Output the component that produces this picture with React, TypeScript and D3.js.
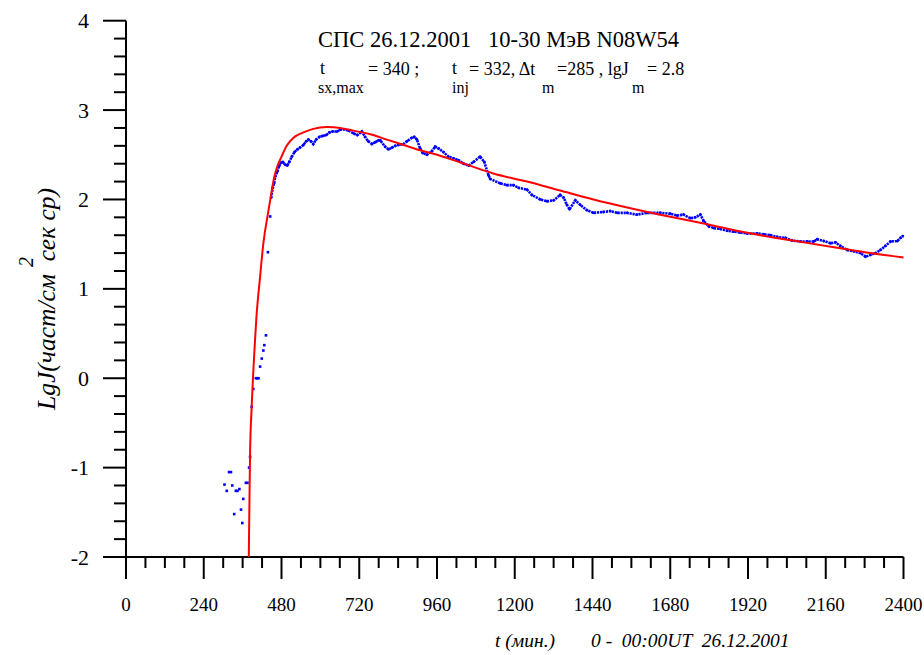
import React from "react";
import * as d3 from "d3";

// ---- data ----
const sparseT = [304, 311, 318, 324, 328, 334, 339, 344, 350, 355, 359, 362, 370, 375, 380, 383, 388, 393, 401, 405, 409, 414, 419, 424, 427, 432, 438, 445];
const sparseV = [-1.19, -1.26, -1.05, -1.05, -1.2, -1.52, -1.26, -1.26, -1.24, -1.47, -1.62, -1.35, -1.17, -1.17, -1.0, -0.88, -0.32, -0.12, 0.0, 0.0, 0.0, 0.13, 0.22, 0.31, 0.37, 0.48, 1.41, 1.81];

const denseT = [448, 453, 457, 461, 467, 472, 478, 484, 491, 498, 504, 512, 520, 529, 537, 548, 556, 563, 571, 578, 587, 597, 607, 618, 628, 638, 651, 661, 673, 687, 702, 714, 728, 738, 748, 759, 769, 779, 785, 800, 810, 821, 831, 841, 857, 867, 882, 890, 898, 908, 916, 929, 944, 954, 965, 980, 995, 1011, 1026, 1042, 1058, 1073, 1093, 1106, 1119, 1124, 1155, 1176, 1196, 1212, 1238, 1253, 1279, 1300, 1320, 1340, 1351, 1361, 1369, 1387, 1402, 1423, 1443, 1474, 1495, 1516, 1547, 1577, 1608, 1649, 1680, 1701, 1721, 1742, 1757, 1773, 1783, 1799, 1814, 1835, 1856, 1876, 1896, 1917, 1948, 1969, 1989, 2010, 2036, 2056, 2082, 2103, 2123, 2134, 2154, 2175, 2190, 2205, 2226, 2247, 2267, 2283, 2298, 2314, 2329, 2344, 2360, 2381, 2391, 2398];
const denseV = [2.02, 2.13, 2.18, 2.26, 2.31, 2.37, 2.41, 2.42, 2.39, 2.38, 2.42, 2.48, 2.53, 2.56, 2.58, 2.61, 2.65, 2.67, 2.65, 2.62, 2.67, 2.7, 2.71, 2.72, 2.75, 2.76, 2.76, 2.78, 2.785, 2.77, 2.74, 2.72, 2.76, 2.7, 2.65, 2.62, 2.64, 2.66, 2.66, 2.59, 2.56, 2.58, 2.6, 2.61, 2.62, 2.65, 2.69, 2.7, 2.67, 2.57, 2.52, 2.5, 2.54, 2.59, 2.57, 2.53, 2.48, 2.46, 2.44, 2.4, 2.38, 2.42, 2.48, 2.42, 2.27, 2.23, 2.18, 2.16, 2.16, 2.13, 2.11, 2.05, 2.0, 1.98, 1.99, 2.05, 2.02, 1.94, 1.89, 1.99, 1.94, 1.88, 1.85, 1.86, 1.87, 1.85, 1.85, 1.83, 1.85, 1.85, 1.84, 1.82, 1.83, 1.79, 1.8, 1.83, 1.76, 1.7, 1.68, 1.67, 1.65, 1.64, 1.63, 1.62, 1.62, 1.61, 1.6, 1.58, 1.57, 1.54, 1.53, 1.53, 1.53, 1.555, 1.535, 1.51, 1.52, 1.48, 1.435, 1.42, 1.4, 1.36, 1.38, 1.4, 1.435, 1.48, 1.53, 1.535, 1.57, 1.59];

const fitT = [379, 381, 383, 388, 396, 402, 414, 424, 440, 450, 457, 468, 479, 496, 517, 548, 578, 620, 661, 702, 754, 805, 857, 908, 960, 1011, 1052, 1134, 1238, 1340, 1443, 1547, 1649, 1783, 1886, 1989, 2092, 2195, 2298, 2400];
const fitV = [-2.0, -1.4, -0.84, -0.32, 0.28, 0.65, 1.14, 1.51, 1.88, 2.1, 2.24, 2.38, 2.47, 2.6, 2.69, 2.75, 2.79, 2.81, 2.8, 2.77, 2.73, 2.67, 2.61, 2.55, 2.5, 2.44, 2.39, 2.29, 2.2, 2.1, 2.0, 1.91, 1.83, 1.73, 1.65, 1.58, 1.52, 1.46, 1.4, 1.35];

const xMajorTicks = [0, 240, 480, 720, 960, 1200, 1440, 1680, 1920, 2160, 2400];
const xTickLabels = ["0", "240", "480", "720", "960", "1200", "1440", "1680", "1920", "2160", "2400"];
const yMajorTicks = [4, 3, 2, 1, 0, -1, -2];
const yTickLabels = ["4", "3", "2", "1", "0", "-1", "-2"];

const titleText = "СПС 26.12.2001   10-30 МэВ N08W54";
const yLabelText = "LgJ(част/см  сек ср)";
const xLabelLeft = "t (мин.)";
const xLabelRight = "0 -  00:00UT  26.12.2001";

const FONT = "Liberation Serif";

export default function App() {
  const x = d3.scaleLinear().domain([0, 2400]).range([126, 903.5]);
  const y = d3.scaleLinear().domain([-2, 4]).range([557, 20.7]);

  const xMinor = d3.range(0, 2400 + 1, 60).filter((t) => t % 240 !== 0);
  const yMinor = d3.range(-2, 4.001, 0.2).filter((v) => Math.abs(v - Math.round(v)) > 0.01);

  const sparse = sparseT.map((t, i) => [t, sparseV[i]] as [number, number]);
  const dense = denseT.map((t, i) => [t, denseV[i]] as [number, number]);
  const fit = fitT.map((t, i) => [t, fitV[i]] as [number, number]);

  const line = d3.line<[number, number]>().x((d) => x(d[0])).y((d) => y(d[1]));
  const fitLine = d3
    .line<[number, number]>()
    .x((d) => x(d[0]))
    .y((d) => y(d[1]))
    .curve(d3.curveMonotoneX);

  const pre = { whiteSpace: "pre" } as React.CSSProperties;

  return (
    <svg
      width={924}
      height={655}
      fontFamily={FONT}
      style={{ position: "absolute", left: 0, top: 0, background: "#fff" }}
    >
      <rect x={0} y={0} width={924} height={655} fill="#fff" />
      {/* axes */}
      <line x1={126} y1={y(4)} x2={126} y2={y(-2)} stroke="#000" strokeWidth={2} />
      <line x1={126} y1={y(-2)} x2={x(2400)} y2={y(-2)} stroke="#000" strokeWidth={2} />
      {yMajorTicks.map((v, i) => (
        <g key={"ym" + v}>
          <line x1={103} x2={126} y1={y(v)} y2={y(v)} stroke="#000" strokeWidth={2} />
          <text x={89} y={y(v) + 7.5} textAnchor="end" fontSize={22} fontFamily={FONT} fill="#000">
            {yTickLabels[i]}
          </text>
        </g>
      ))}
      {yMinor.map((v) => (
        <line key={"yn" + v} x1={114} x2={126} y1={y(v)} y2={y(v)} stroke="#000" strokeWidth={2} />
      ))}
      {xMajorTicks.map((t, i) => (
        <g key={"xm" + t}>
          <line x1={x(t)} x2={x(t)} y1={y(-2)} y2={y(-2) + 22} stroke="#000" strokeWidth={2} />
          <text x={x(t)} y={611} textAnchor="middle" fontSize={19} fontFamily={FONT} fill="#000">
            {xTickLabels[i]}
          </text>
        </g>
      ))}
      {xMinor.map((t) => (
        <line key={"xn" + t} x1={x(t)} x2={x(t)} y1={y(-2)} y2={y(-2) + 11} stroke="#000" strokeWidth={2} />
      ))}

      {/* data */}
      <path d={line(dense) || ""} fill="none" stroke="#0000ff" strokeWidth={2.6} strokeDasharray="2.2 0.8" />
      {dense.map((d, i) => (
        <circle key={"d" + i} cx={x(d[0])} cy={y(d[1])} r={1.4} fill="#0000ff" />
      ))}
      {sparse.map((d, i) => (
        <rect key={"s" + i} x={x(d[0]) - 1.3} y={y(d[1]) - 1.3} width={2.6} height={2.6} fill="#0000ff" />
      ))}
      <path d={fitLine(fit) || ""} fill="none" stroke="#ff0000" strokeWidth={2} />

      {/* title */}
      <text x={318} y={47} fontSize={22.5} fontFamily={FONT} fill="#000" style={pre}>
        {titleText}
      </text>
      <g fontFamily={FONT} fill="#000" style={pre}>
        <text x={320} y={74} fontSize={18}>t</text>
        <text x={318} y={93} fontSize={16}>sx,max</text>
        <text x={368} y={75} fontSize={18}>= 340 ;</text>
        <text x={452} y={74} fontSize={18}>t</text>
        <text x={452} y={93} fontSize={16}>inj</text>
        <text x={469} y={75} fontSize={18}>= 332,  Δt</text>
        <text x={542} y={93} fontSize={16}>m</text>
        <text x={557} y={75} fontSize={18}>=285 , lgJ</text>
        <text x={632} y={93} fontSize={16}>m</text>
        <text x={647} y={75} fontSize={18}>= 2.8</text>
      </g>

      {/* y label */}
      <text
        transform="translate(55,299) rotate(-90)"
        textAnchor="middle"
        fontSize={25.5}
        fontStyle="italic"
        fontFamily={FONT}
        fill="#000"
        style={pre}
      >
        {yLabelText}
      </text>
      <text
        transform="translate(33,262) rotate(-90)"
        textAnchor="middle"
        fontSize={20}
        fontStyle="italic"
        fontFamily={FONT}
        fill="#000"
      >
        2
      </text>

      {/* x label */}
      <text x={495} y={647} fontSize={19.5} fontStyle="italic" fontFamily={FONT} fill="#000" style={pre}>
        {xLabelLeft}
      </text>
      <text x={591} y={647} fontSize={19.5} fontStyle="italic" fontFamily={FONT} fill="#000" style={pre}>
        {xLabelRight}
      </text>
    </svg>
  );
}
